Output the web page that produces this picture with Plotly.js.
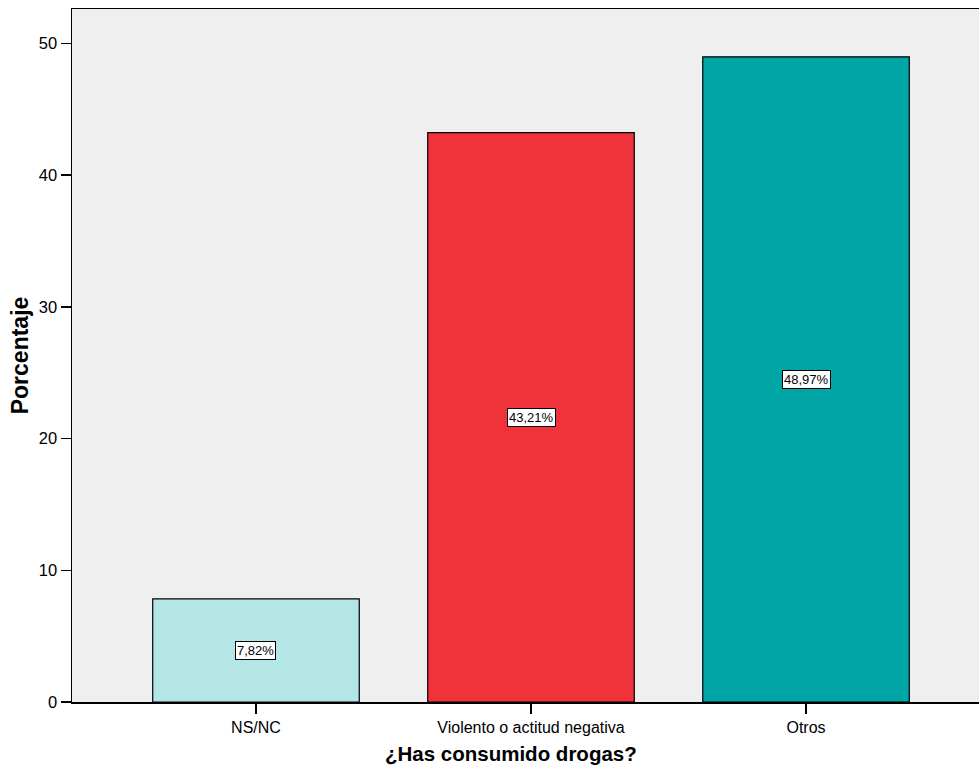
<!DOCTYPE html>
<html>
<head>
<meta charset="utf-8">
<script src="https://cdn.plot.ly/plotly-3.0.1.min.js"></script>
<style>html,body{margin:0;padding:0;background:#fff}#chart{width:979px;height:774px}</style>
</head>
<body>
<div id="chart"></div>
<script>
const categories = ["NS/NC", "Violento o actitud negativa", "Otros"];
const values = [7.82, 43.21, 48.97];
const valueLabels = ["7,82%", "43,21%", "48,97%"];
const barColors = ["#b4e6e6", "#f0333a", "#00a6a5"];
const yTicks = [0, 10, 20, 30, 40, 50];
const xTitle = "¿Has consumido drogas?";
const yTitle = "Porcentaje";

const font = "Arial, 'Liberation Sans', sans-serif";

const trace = {
  type: "bar",
  x: categories,
  y: values,
  width: 0.751,
  marker: {color: barColors, line: {color: "#000", width: 1.2}},
  hoverinfo: "none"
};

const annotations = categories.map((c, i) => ({
  x: c, y: values[i] / 2, xref: "x", yref: "y",
  text: valueLabels[i], showarrow: false,
  font: {family: font, size: 13, color: "#000"},
  bgcolor: "#ffffff", bordercolor: "#000", borderwidth: 1, borderpad: 1
}));
annotations.push({
  x: 0.484, y: -0.0736, xref: "paper", yref: "paper",
  xanchor: "center", yanchor: "middle",
  text: "<b>" + xTitle + "</b>", showarrow: false,
  font: {family: font, size: 20.5, color: "#000"}
});

const layout = {
  width: 979, height: 774,
  margin: {l: 72, r: 0, t: 9, b: 72},
  paper_bgcolor: "#ffffff",
  plot_bgcolor: "#efefef",
  showlegend: false,
  font: {family: font, color: "#000"},
  xaxis: {
    type: "category",
    range: [-0.669, 2.629],
    showline: true, linecolor: "#000", linewidth: 1.5, mirror: true,
    ticks: "outside", ticklen: 10, tickwidth: 1.5, tickcolor: "#000",
    tickfont: {family: font, size: 16, color: "#000"},
    showgrid: false, zeroline: false,
    automargin: false
  },
  yaxis: {
    range: [0, 52.6],
    tickvals: yTicks, ticktext: yTicks.map(String),
    showline: true, linecolor: "#000", linewidth: 1.5,
    ticks: "outside", ticklen: 10, tickwidth: 1.5, tickcolor: "#000",
    tickfont: {family: font, size: 16.5, color: "#000"},
    showgrid: false, zeroline: false,
    title: {text: yTitle, font: {family: font, size: 23, color: "#000", weight: "bold"}, standoff: 4},
    automargin: false
  },
  annotations: annotations
};

Plotly.newPlot("chart", [trace], layout, {displayModeBar: false, staticPlot: true});
</script>
</body>
</html>
